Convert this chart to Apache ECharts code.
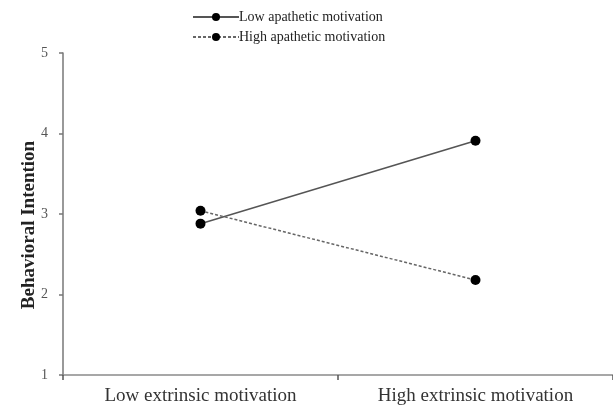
<!DOCTYPE html>
<html>
<head>
<meta charset="utf-8">
<script src="https://cdn.jsdelivr.net/npm/echarts@6/dist/echarts.min.js"></script>
<style>
  html, body { margin: 0; padding: 0; background: #fff; }
  #chart { width: 613px; height: 406px; }
</style>
</head>
<body>
<div id="chart"></div>
<script>
// Interaction plot: behavioral intention by extrinsic and apathetic motivation
const categories = ['Low extrinsic motivation', 'High extrinsic motivation'];
const lowApathetic = [2.88, 3.91];
const highApathetic = [3.04, 2.18];
const yTicks = [1, 2, 3, 4, 5];

const serif = '"Liberation Serif", "DejaVu Serif", serif';

const chart = echarts.init(document.getElementById('chart'));
chart.setOption({
  animation: false,
  textStyle: { fontFamily: serif },
  legend: {
    orient: 'vertical',
    left: 187,
    top: 5,
    itemWidth: 46,
    itemHeight: 10,
    itemGap: 6,
    textStyle: { fontFamily: serif, fontSize: 14, color: '#222', padding: [0, 0, 0, -5] },
    data: ['Low apathetic motivation', 'High apathetic motivation']
  },
  grid: { left: 63, right: 0, top: 53, bottom: 31, containLabel: false },
  xAxis: {
    type: 'category',
    data: categories,
    boundaryGap: true,
    axisLine: { lineStyle: { color: '#8a8a8a', width: 1.5 } },
    axisTick: { show: true, length: 5, lineStyle: { color: '#555', width: 1.5 } },
    axisLabel: { fontFamily: serif, fontSize: 19, color: '#333', margin: 12 }
  },
  yAxis: {
    type: 'value',
    min: yTicks[0],
    max: yTicks[yTicks.length - 1],
    interval: 1,
    name: 'Behavioral Intention',
    nameLocation: 'middle',
    nameGap: 24,
    nameMoveOverlap: false,
    nameTextStyle: {
      fontFamily: serif, fontSize: 19, fontWeight: 'bold', color: '#222',
      padding: [0, 22, 0, 0]
    },
    axisLine: { show: true, lineStyle: { color: '#777', width: 1.5 } },
    axisTick: { show: true, length: 4, lineStyle: { color: '#777', width: 1.5 } },
    axisLabel: { fontFamily: serif, fontSize: 14, color: '#555', margin: 15 },
    splitLine: { show: false }
  },
  series: [
    {
      name: 'Low apathetic motivation',
      type: 'line',
      data: lowApathetic,
      symbol: 'circle',
      symbolSize: 10,
      itemStyle: { color: '#000' },
      lineStyle: { color: '#555', width: 1.5, type: 'solid' }
    },
    {
      name: 'High apathetic motivation',
      type: 'line',
      data: highApathetic,
      symbol: 'circle',
      symbolSize: 10,
      itemStyle: { color: '#000' },
      lineStyle: { color: '#666', width: 1.5, type: [3, 2] }
    }
  ]
});
</script>
</body>
</html>
